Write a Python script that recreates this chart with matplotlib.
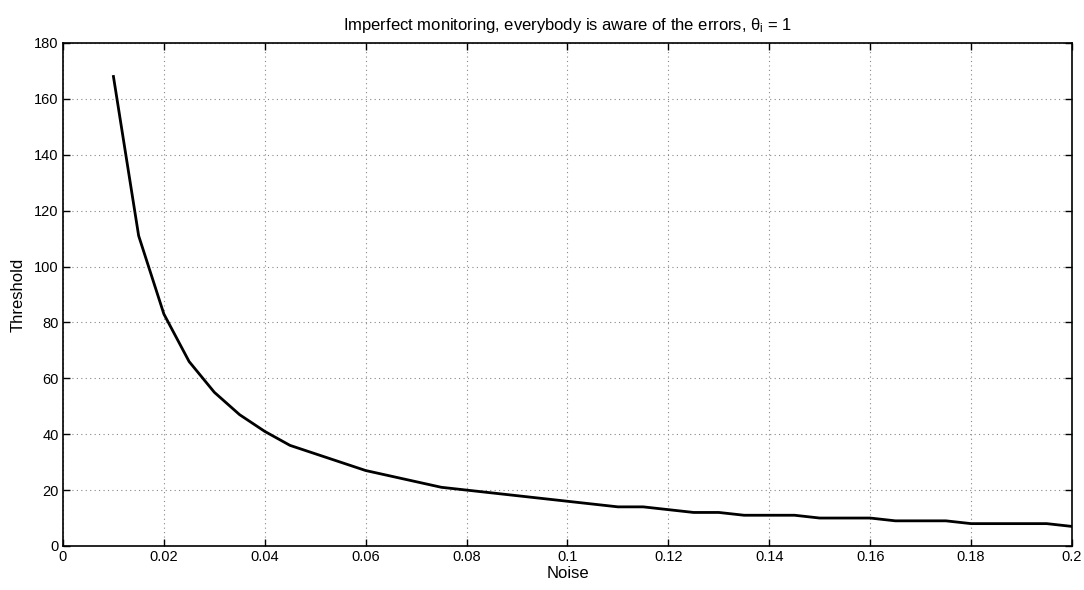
import matplotlib
matplotlib.use("Agg")
import matplotlib.pyplot as plt
from matplotlib.ticker import MultipleLocator

plt.rcParams['font.family'] = ['Liberation Sans', 'DejaVu Sans']
plt.rcParams['mathtext.fontset'] = 'custom'
plt.rcParams['mathtext.rm'] = 'Liberation Sans'
plt.rcParams['mathtext.it'] = 'Liberation Sans'
plt.rcParams['mathtext.default'] = 'regular'

noise = [0.010, 0.015, 0.020, 0.025, 0.030, 0.035, 0.040, 0.045, 0.050, 0.055,
         0.060, 0.065, 0.070, 0.075, 0.080, 0.085, 0.090, 0.095, 0.100, 0.105,
         0.110, 0.115, 0.120, 0.125, 0.130, 0.135, 0.140, 0.145, 0.150, 0.155,
         0.160, 0.165, 0.170, 0.175, 0.180, 0.185, 0.190, 0.195, 0.200]
threshold = [168, 111, 83, 66, 55, 47, 41, 36, 33, 30,
             27, 25, 23, 21, 20, 19, 18, 17, 16, 15,
             14, 14, 13, 12, 12, 11, 11, 11, 10, 10,
             10, 9, 9, 9, 8, 8, 8, 8, 7]

fig = plt.figure(figsize=(10.84, 5.90), dpi=100)
ax = fig.add_axes([0.0581, 0.0746, 0.9308, 0.8526])

ax.plot(noise, threshold, color='black', linewidth=2.0)

ax.set_xlim(0, 0.2)
ax.set_ylim(0, 180)
ax.xaxis.set_major_locator(MultipleLocator(0.02))
ax.yaxis.set_major_locator(MultipleLocator(20))
ax.set_xticklabels(['0', '0.02', '0.04', '0.06', '0.08', '0.1', '0.12',
                    '0.14', '0.16', '0.18', '0.2'])
ax.set_xticks([0, 0.02, 0.04, 0.06, 0.08, 0.1, 0.12, 0.14, 0.16, 0.18, 0.2])

ax.grid(True, linestyle=(0, (1, 3)), color='#888888', linewidth=0.8)
ax.tick_params(direction='in', top=True, right=True, length=5, width=1.0,
               labelsize=10.5, pad=3)
for s in ax.spines.values():
    s.set_linewidth(1.2)

ax.set_xlabel('Noise', fontsize=12, labelpad=1)
ax.set_ylabel('Threshold', fontsize=12, labelpad=6)
ax.set_title(r'Imperfect monitoring, everybody is aware of the errors, $\theta_i$ = 1',
             fontsize=12, pad=9)

fig.savefig('out.png', dpi=100)
